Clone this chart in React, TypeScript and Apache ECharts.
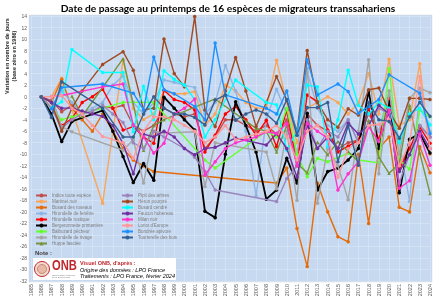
import React, { useEffect, useRef } from "react";
import * as echarts from "echarts";

const years = [
  "1985","1986","1987","1988","1989","1990","1991","1992","1993","1994",
  "1995","1996","1997","1998","1999","2000","2001","2002","2003","2004",
  "2005","2006","2007","2008","2009","2010","2011","2012","2013","2014",
  "2015","2016","2017","2018","2019","2020","2021","2022","2023","2024",
];

const indice = [
  null, 0, -0.7, -2.6, -1.5, -3, -2.5, -1.7, -2, -1.5,
  -5, -6, -5, -2, -3, -3.5, -3, -9, -7, -4,
  -4, -5, -6, -5, -6.5, -4, -10, -3, -5, -6,
  -9, -8, -7.5, -3, -6, -3, -12, -9, -5, -7,
];
const martinet = [
  null, null, 0, 3.2, null, null, null, -18.5, null, 6.4,
  -2, -4, -3, 1, 0.5, 0.5, 0.9, -5, -3, 2,
  1, -1, -2, -2, 6.3, -1, -8, -2, -1, 0,
  -1, -3, -1, 4, -3, 6.5, -5, -4, 5.7, -10,
];
const roseaux = [
  null, 0, -1, 3, -2, -4, -6, -3, -6, -9,
  -11, -12, -13, null, null, null, null, null, null, null,
  null, null, null, null, -15, -12.4, -22.9, -29.5, -15, -20,
  -24.3, -25.2, -10, -22, -9, -7, -19.2, -20, -8.7, -13.2,
];
const fenetre = [
  null, 0, -2, 1, -1, -3, -2, -1, 2, 3.6,
  -1, -3, -1, 2.9, 2.5, 2, 1.6, -3, -1, 5.4,
  1, -6, -17.2, -4, 1.3, -3, -10, 4.3, -2, -5,
  -6, -4, -8, -2, -6, 1, -8, -18.2, 1, -6,
];
const rustique = [
  null, 0, -2, -5, -3.8, -1, 0, 1.3, -2, -5.8,
  -5.2, -7, -8.1, 1.1, -0.5, -1, -2.3, -9.6, -6.7, -3,
  -1.7, -4, -6.7, -4.1, -8.7, -2.3, -12, 0.3, -0.9, -5.8,
  -9.6, -8.6, -7.6, -2, -7.5, -0.3, -12.7, -9, -5.3, -8.1,
];
const bergeronnette = [
  null, 0, -3, -7.8, -4.3, null, null, -2.4, -6, -10.4,
  -14.9, -11.6, -14.5, -0.1, -2, -4, -5.8, -19.9, -21, -10,
  -0.9, -5, -9.6, -17.8, -16.2, -10.7, -15, -2.9, -16.2, -13,
  -12.4, -11, -9, 1, -9, -0.9, -16.7, -7.4, -6.4, -9.8,
];
const balbuzard = [
  null, 0, -2, -4, -3.5, null, null, null, null, -1,
  null, null, -1, null, null, null, null, -11, -12.4, null,
  null, null, null, -6, -7, -2, -10, -13.9, -10.7, -11.3,
  null, -9.8, -11, null, -11.5, 4.9, -11, -12.6, -2.3, -3.5,
];
const rivage = [
  null, null, 0, -5.2, -6.1, null, null, null, null, -9.3,
  -7.5, -15, -6, -6.3, null, null, -6.1, -15.6, -8, null,
  null, null, null, -9.6, -16, -6, -18, 4.9, -18.5, -9,
  -12, -17.9, -6, 6.4, -13.4, 1, -10, -0.3, 1.5, 0.7,
];
const huppe = [
  null, null, null, null, 0.1, -3.4, null, null, null, 6.6,
  null, -9.3, -5, -4, null, null, null, null, -0.4, null,
  null, null, -5.5, -6, -9.6, -5, -11.6, -13.2, -7.9, -10.1,
  -7.8, -9.5, -11.3, -4.1, -10.5, -13.3, -11.6, -1.5, -9.8, -16.8,
];
const pipit = [
  null, 0, -2, -5.5, -4, -3, -2.5, -1.5, -3, -4.5,
  -8, -9, -6, -7, null, -9, -10.5, -13, -16.2, null,
  null, null, null, null, -18.2, -14.2, -12, -4, -9, -6,
  -7, -4, -8, -5, -2, -3, -15, -10, -5, -7,
];
const heron = [
  null, 0, -1, -6, -2, 1, null, 5.6, null, 7.8,
  4.6, -2.3, -2, 10, 4, 1.7, 13.9, -2.3, -5.2, 1,
  6.8, 1, -5.2, -1, 3.5, -0.6, -6, 8, -1, -4,
  -5.3, -2.1, -3.2, 1.2, 1.5, -2.6, -5.5, -0.3, -0.3, -0.5,
];
const cendre = [
  null, null, -2, -0.9, 8.2, null, null, 4.2, null, 4.2,
  -6.1, 1.8, -4, 4.5, 3, 2, -0.5, -7, -4, null,
  2.9, null, null, -1, -1.4, -9.3, -6, 2, 1.7, -8.7,
  -4, 4.6, -1.5, -3, -1, -2, -8, -3, -2, -4.9,
];
const faucon = [
  null, 0, -1, -2, -2, -2.5, -3, -3.4, -5, -8.1,
  -13.4, -6.5, -7, -6, -7, -9, -10.1, -9, -8.8, -8,
  -7.2, null, null, -8.4, -6.4, -9, -14, -5, -9, -7,
  -9, -4.6, -6.5, -5, -1.5, -3, -13, -10.1, -6, -9,
];
const milan = [
  null, null, 0, 0.2, null, null, null, 1.7, null, 2.2,
  -4.9, -7, -9.8, -8.1, -3, -2, -0.4, -13.6, -11.3, -9,
  -8, -7.5, -7, -6.1, -6.4, -4.6, -12, -4.6, -6, -7.2,
  -16.2, -13.4, -11.3, -5.2, -7.8, -2.3, -15.9, -14.6, -6.5, -11.9,
];
const loriot = [
  null, 0, 0, 0.2, -2, -3, -5, -6.9, null, -8,
  -10.7, -6, -3.5, -3.5, -4, -5, -6, -8, -7, -5,
  -7.5, -7, -6.5, -6, -5, -7, -11, -6, -5, -7,
  -14, -9, -8, -5, -4.8, -4, -12, -8, 3.5, -9,
];
const bondree = [
  null, null, -2.1, 1.6, null, null, null, 2.2, null, null,
  0.6, -2.3, 6.9, 1.2, 0.5, null, -1.7, -4, 9.3, 0.3,
  null, null, null, -2, -3, 1, -6.7, 6.4, 0.3, null,
  2.2, 0.9, -2.9, -1.7, -0.5, 3.8, null, null, 0.6, -6.4,
];
const tourterelle = [
  null, 0, -3.6, 2.6, null, null, null, -2, null, -7,
  -7, -3, 0, -2, -3, -3, -3.6, -4.9, -0.6, 0.3,
  -4.1, -3, -2.3, -3, -4.6, -0.5, -6.7, -1.9, -1.9, -1,
  -11.3, -5, -11.9, -1, -4, -4.3, -7.2, -3.5, -1, -3.4,
];

const seriesNames = [
  "Indice toute espèce", "Martinet noir", "Busard des roseaux", "Hirondelle de fenêtre",
  "Hirondelle rustique", "Bergeronnette printanière", "Balbuzard pêcheur",
  "Hirondelle de rivage", "Huppe fasciée", "Pipit des arbres", "Héron pourpré",
  "Busard cendré", "Faucon hobereau", "Milan noir", "Loriot d'Europe",
  "Bondrée apivore", "Tourterelle des bois",
];
const seriesData = [
  indice, martinet, roseaux, fenetre, rustique, bergeronnette, balbuzard, rivage,
  huppe, pipit, heron, cendre, faucon, milan, loriot, bondree, tourterelle,
];
const seriesColors = [
  "#c0504d", "#f9a65a", "#e46c0a", "#8eb4e3", "#ff0000", "#000000", "#66ff33",
  "#a6a6a6", "#77933c", "#9a85bd", "#9e4b23", "#00ffff", "#7030a0", "#ff33cc",
  "#ff9999", "#1e90ff", "#376092",
];

export default function App() {
  const ref = useRef<HTMLDivElement>(null);
  useEffect(() => {
    if (!ref.current) return;
    const chart = echarts.init(ref.current, null, { renderer: "svg" });
    const series = seriesNames.map((name, i) => ({
      name,
      type: "line",
      data: seriesData[i],
      connectNulls: true,
      symbol: i === 8 ? "triangle" : "circle",
      symbolSize: 3.5,
      lineStyle: { width: i === 5 ? 1.8 : 1.4, color: seriesColors[i] },
      itemStyle: { color: seriesColors[i] },
      z: 2 + i * 0.01,
    }));
    const legendText = { fontSize: 4.5, color: "#7f7f7f", lineHeight: 5, fontFamily: "Liberation Sans" };
    chart.setOption({
      animation: false,
      textStyle: { fontFamily: "Liberation Sans" },
      grid: { left: 31, right: 16, top: 16, bottom: 24, show: false },
      xAxis: {
        type: "category",
        data: years,
        boundaryGap: false,
        axisLine: { show: false },
        axisTick: { show: false },
        axisLabel: { rotate: 90, fontSize: 5.5, color: "#595959", interval: 0, margin: 3 },
        splitLine: { show: true, lineStyle: { color: "rgba(255,255,255,0.35)", width: 0.6 } },
      },
      yAxis: {
        type: "value",
        min: -32,
        max: 14,
        interval: 2,
        axisLine: { show: false },
        axisTick: { show: false },
        axisLabel: { fontSize: 5, color: "#595959", margin: 4 },
        splitLine: { show: true, lineStyle: { color: "rgba(255,255,255,0.35)", width: 0.6 } },
      },
      legend: [
        {
          data: seriesNames.slice(0, 9),
          orient: "vertical",
          left: 35,
          top: 193,
          padding: 0,
          itemWidth: 11,
          itemHeight: 5,
          itemGap: 1,
          textStyle: legendText,
          selectedMode: false,
        },
        {
          data: seriesNames.slice(9),
          orient: "vertical",
          left: 121,
          top: 193,
          padding: 0,
          itemWidth: 11,
          itemHeight: 5,
          itemGap: 1,
          textStyle: legendText,
          selectedMode: false,
        },
      ],
      graphic: [
        { type: "rect", z: -10, silent: true, shape: { x: 29, y: 15, width: 403, height: 267 }, style: { fill: "#c6d9f0", stroke: "#d9d9d9", lineWidth: 0.5 } },
        {
          type: "text", x: 228, y: 8, z: 10,
          style: { text: "Date de passage au printemps de 16 espèces de migrateurs transsahariens", fontSize: 10.2, fontWeight: "bold", fontFamily: "Lato", fill: "#000", textAlign: "center", textVerticalAlign: "middle" },
        },
        {
          type: "text", x: 7, y: 56, rotation: Math.PI / 2, z: 10,
          style: { text: "Variation en nombre de jours", fontSize: 5.5, fontWeight: "bold", fill: "#262626", textAlign: "center", textVerticalAlign: "middle", fontFamily: "Liberation Sans" },
        },
        {
          type: "text", x: 13.5, y: 56, rotation: Math.PI / 2, z: 10,
          style: { text: "(base zéro en 1986)", fontSize: 5.5, fontWeight: "bold", fill: "#262626", textAlign: "center", textVerticalAlign: "middle", fontFamily: "Liberation Sans" },
        },
        {
          type: "text", x: 35, y: 253, z: 10,
          style: { text: "Note :", fontSize: 6, fontWeight: "bold", fill: "#404040", textVerticalAlign: "middle", fontFamily: "Liberation Sans" },
        },
        { type: "rect", z: 10, shape: { x: 33, y: 258, width: 143, height: 22 }, style: { fill: "#ffffff" } },
        { type: "circle", z: 11, shape: { cx: 42, cy: 269, r: 7.5 }, style: { fill: "#f3d8cf", stroke: "#c0272d", lineWidth: 1 } },
        { type: "circle", z: 11, shape: { cx: 42, cy: 269, r: 4.5 }, style: { fill: "#e8b9a8", stroke: "#a0522d", lineWidth: 0.5 } },
        {
          type: "text", x: 52, y: 266, z: 11, scaleX: 0.8,
          style: { text: "ONB", fontSize: 14, fontWeight: "bold", fill: "#c0272d", textVerticalAlign: "middle", fontFamily: "Liberation Sans" },
        },
        {
          type: "text", x: 52, y: 276.5, z: 11,
          style: { text: "Observatoire National\nde la Biodiversité", fontSize: 2.4, lineHeight: 2.6, fill: "#7f7f7f", textVerticalAlign: "middle", fontFamily: "Liberation Sans" },
        },
        {
          type: "text", x: 80, y: 263, z: 11,
          style: { text: "Visuel ONB, d'après :", fontSize: 5.5, fontWeight: "bold", fill: "#c0272d", textVerticalAlign: "middle", fontFamily: "Liberation Sans" },
        },
        {
          type: "text", x: 80, y: 269.5, z: 11,
          style: { text: "Origine des données : LPO France", fontSize: 5.5, fontStyle: "italic", fill: "#000", textVerticalAlign: "middle", fontFamily: "Liberation Sans" },
        },
        {
          type: "text", x: 80, y: 276, z: 11,
          style: { text: "Traitements : LPO France, février 2024", fontSize: 5.5, fontStyle: "italic", fill: "#000", textVerticalAlign: "middle", fontFamily: "Liberation Sans" },
        },
      ],
      series,
    });
    return () => chart.dispose();
  }, []);
  return <div ref={ref} style={{ position: "fixed", left: 0, top: 0, width: 446, height: 305 }} />;
}
